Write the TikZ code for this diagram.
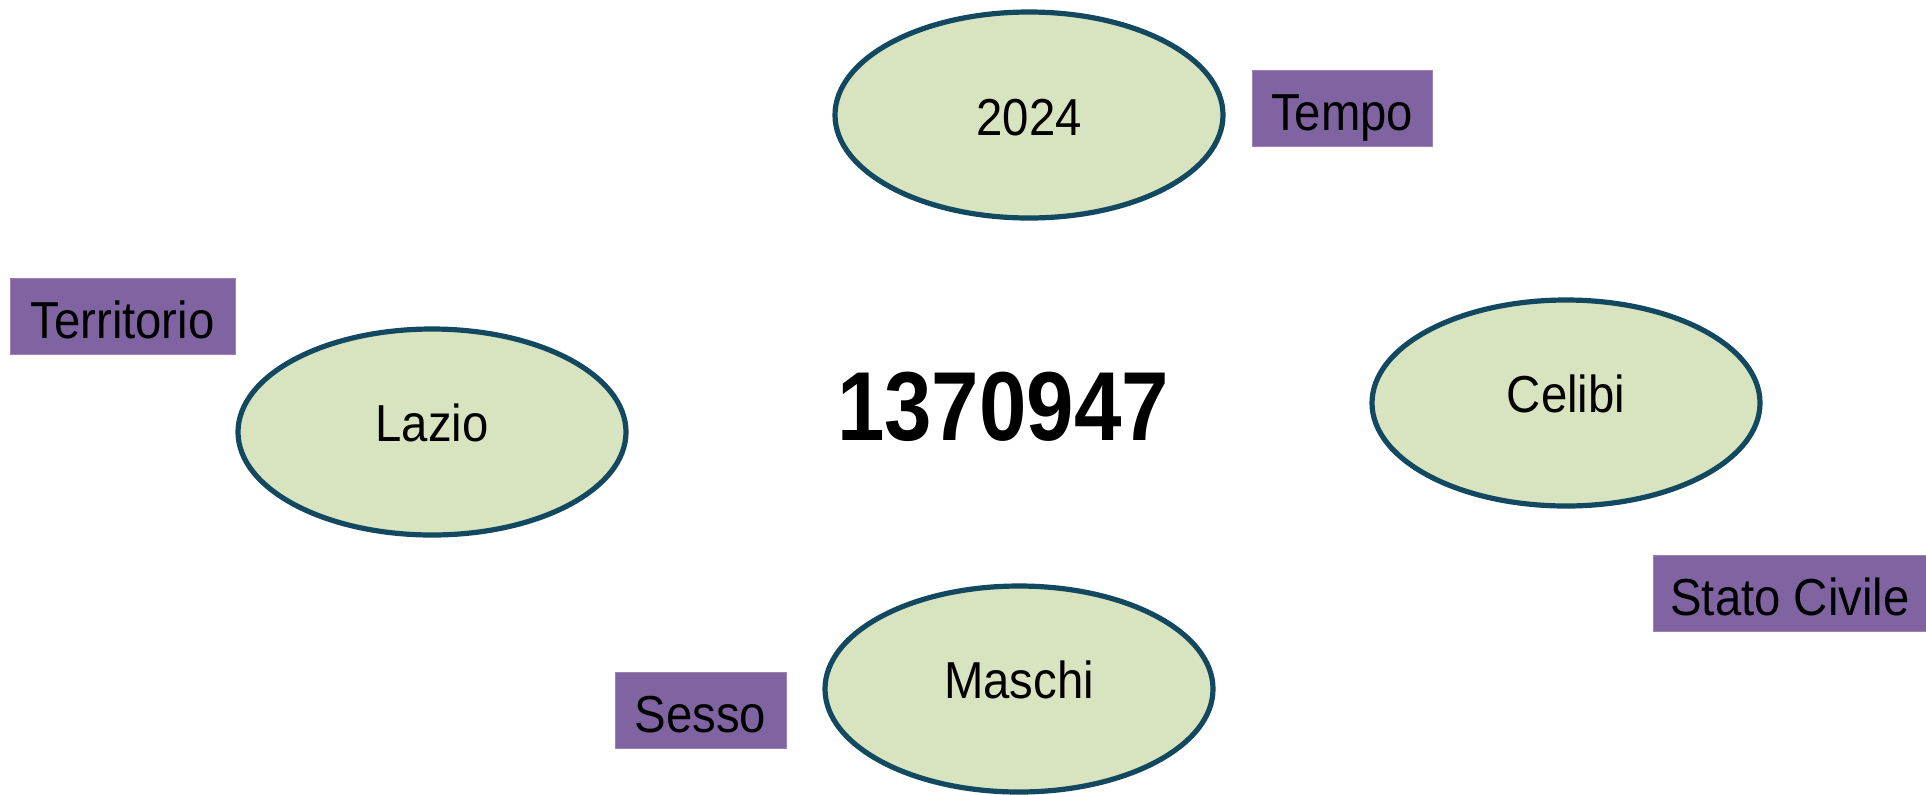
\documentclass[tikz,border=0pt]{standalone}
\usepackage{fontspec}
\setmainfont{Liberation Sans}[FakeStretch=0.91]
\newfontfamily\bignum{Liberation Sans}[FakeStretch=0.87]
\usetikzlibrary{shapes.geometric}
\definecolor{ellfill}{RGB}{216,228,191}
\definecolor{elldraw}{RGB}{18,72,96}
\definecolor{tagfill}{RGB}{128,100,162}
\begin{document}
\begin{tikzpicture}[x=0.5pt,y=-0.5pt,
  valell/.style={ellipse, draw=elldraw, fill=ellfill, line width=2.6pt,
    minimum width=194pt, minimum height=103pt, inner sep=0pt,
    font=\fontsize{26}{30}\selectfont, text=black},
  raised/.style={text height=18.6pt, text depth=9pt},
  lowered/.style={text height=20.6pt, text depth=0pt},
  tagbox/.style={rectangle, fill=tagfill, draw=tagfill!80!white, line width=0.4pt,
    minimum height=38pt, inner sep=0pt, text height=22pt, text depth=0pt,
    font=\fontsize{26}{30}\selectfont, text=black}]
\useasboundingbox (0,0) rectangle (1926,794);
\node[valell, lowered] (anno) at (1029,115) {2024};
\node[valell, raised] (lazio) at (432,432) {Lazio};
\node[valell, raised] (celibi) at (1566,403) {Celibi};
\node[valell, raised] (maschi) at (1019,689) {Maschi};
\node[tagbox, minimum width=90pt] (tempo) at (1342,108) {Tempo};
\node[tagbox, minimum width=112.5pt] (terr) at (122.5,316) {Territorio};
\node[tagbox, minimum width=137pt] (stato) at (1790,593) {Stato Civile};
\node[tagbox, minimum width=85.5pt] (sesso) at (700.5,710.5) {Sesso};
\node[font=\bignum\bfseries\fontsize{49}{56}\selectfont, inner sep=0pt] (valore) at (1003,407) {1370947};
\end{tikzpicture}
\end{document}
